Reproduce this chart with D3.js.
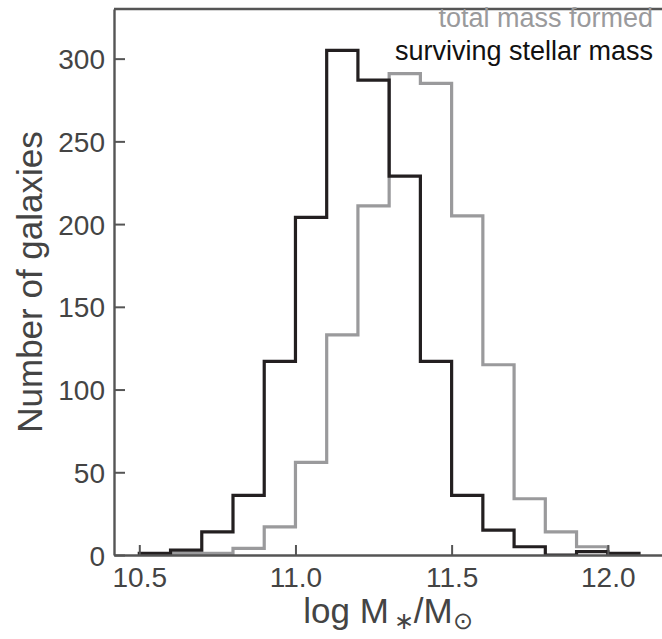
<!DOCTYPE html>
<html>

<head>
    <meta http-equiv="Content-Type" content="text/html; charset=UTF-8">
    <style>
        body { margin: 0; background: #fff; overflow: hidden; }
        svg { display: block; }
        svg text { font-family: "Liberation Sans", Arial, sans-serif; }
    </style>
</head>

<body>
    <svg width="662" height="639"></svg>
    <script src="https://cdnjs.cloudflare.com/ajax/libs/d3/7.8.5/d3.min.js"></script>

    <script>

        // bin edges of the histogram (log stellar mass)
        const binEdges = [10.5, 10.6, 10.7, 10.8, 10.9, 11.0, 11.1, 11.2, 11.3, 11.4, 11.5, 11.6, 11.7, 11.8, 11.9, 12.0, 12.1];
        // counts per bin
        const surviving = [1, 3, 14, 36, 117, 204, 305, 287, 229, 117, 36, 15, 5, 0, 2, 1];
        const totalFormed = [0, 1, 1, 4, 17, 56, 133, 211, 291, 285, 205, 115, 34, 14, 5, 0];

        const xTicks = [10.5, 11.0, 11.5, 12.0];
        const yTicks = [0, 50, 100, 150, 200, 250, 300];

        let width = 662, height = 639;
        let margin = { left: 114, right: -2, top: 9, bottom: 84 };

        let svg = d3.select("svg");

        let x = d3.scaleLinear()
            .domain([10.419, 12.18])
            .range([margin.left, width - margin.right]);

        let y = d3.scaleLinear()
            .domain([0, 330])
            .range([height - margin.bottom, margin.top]);

        svg.append("clipPath")
            .attr("id", "plotclip")
            .append("rect")
            .attr("x", margin.left)
            .attr("y", margin.top)
            .attr("width", x.range()[1] - margin.left)
            .attr("height", y(0) - margin.top);

        // step outline like a histtype='step' histogram
        function stepPoints(counts) {
            let pts = [[binEdges[0], 0]];
            counts.forEach((c, i) => {
                pts.push([binEdges[i], c]);
                pts.push([binEdges[i + 1], c]);
            });
            pts.push([binEdges[binEdges.length - 1], 0]);
            return pts;
        }

        let line = d3.line()
            .x(d => x(d[0]))
            .y(d => y(d[1]));

        let plot = svg.append("g").attr("clip-path", "url(#plotclip)");

        plot.append("path")
            .attr("d", line(stepPoints(totalFormed)))
            .attr("fill", "none")
            .attr("stroke", "#9a9a9c")
            .attr("stroke-width", 3.2)
            .attr("stroke-linejoin", "miter");

        plot.append("path")
            .attr("d", line(stepPoints(surviving)))
            .attr("fill", "none")
            .attr("stroke", "#231f20")
            .attr("stroke-width", 3.2)
            .attr("stroke-linejoin", "miter");

        // axes: ticks pointing inwards
        let axisColor = "#555555";

        let xAxis = svg.append("g")
            .attr("transform", "translate(0," + y(0) + ")")
            .call(d3.axisBottom(x).tickValues(xTicks).tickFormat(d3.format(".1f"))
                .tickSizeInner(-10).tickSizeOuter(0).tickPadding(12));

        let yAxis = svg.append("g")
            .attr("transform", "translate(" + margin.left + ",0)")
            .call(d3.axisLeft(y).tickValues(yTicks)
                .tickSizeInner(-11).tickSizeOuter(0).tickPadding(9));

        [xAxis, yAxis].forEach(a => {
            a.select(".domain").attr("stroke", axisColor).attr("stroke-width", 2.4);
            a.selectAll(".tick line").attr("stroke", axisColor).attr("stroke-width", 2);
            a.selectAll(".tick text")
                .attr("fill", "#444")
                .style("font-size", "28px")
                .style("font-family", "Liberation Sans, Arial, sans-serif");
        });
        yAxis.selectAll(".tick text").attr("dy", "0.36em");

        // top frame (right spine falls just outside the picture)
        svg.append("line")
            .attr("x1", margin.left).attr("x2", x.range()[1])
            .attr("y1", margin.top).attr("y2", margin.top)
            .attr("stroke", axisColor).attr("stroke-width", 2.4);

        // axis labels
        svg.append("text")
            .attr("transform", "translate(42," + ((margin.top + y(0)) / 2) + ") rotate(-90)")
            .attr("text-anchor", "middle")
            .attr("fill", "#444")
            .style("font-size", "35px")
            .text("Number of galaxies");

        let xl = svg.append("text")
            .attr("x", (margin.left + 662) / 2)
            .attr("y", 623)
            .attr("text-anchor", "middle")
            .attr("fill", "#444")
            .style("font-size", "35px");
        xl.append("tspan").text("log M");
        xl.append("tspan").attr("dy", 6).style("font-size", "24px").text("\u2009\u2217");
        xl.append("tspan").attr("dy", -6).text("/M");
        xl.append("tspan").attr("dy", 6).style("font-size", "24px").text("\u2299");

        // legend labels
        svg.append("text")
            .attr("x", 653).attr("y", 27)
            .attr("text-anchor", "end")
            .attr("fill", "#9a9a9c")
            .style("font-size", "27px")
            .text("total mass formed");
        svg.append("text")
            .attr("x", 653).attr("y", 60)
            .attr("text-anchor", "end")
            .attr("fill", "#111")
            .style("font-size", "27px")
            .text("surviving stellar mass");

    </script>

</body>

</html>
